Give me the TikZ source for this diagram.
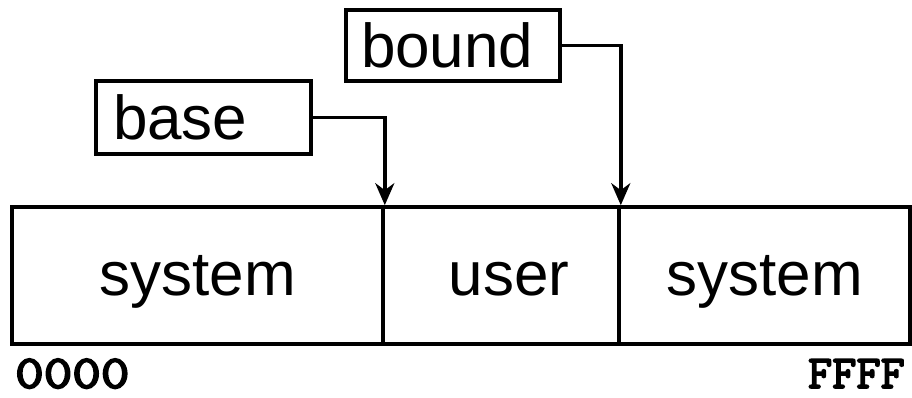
\documentclass[tikz,border=0pt]{standalone}
\usepackage{fontspec}
\setmainfont{Liberation Sans}
\newfontfamily\addrfont[AutoFakeBold=3.5]{Latin Modern Mono}
\usetikzlibrary{arrows.meta}
\begin{document}
\begin{tikzpicture}[x=1pt,y=-1pt,
  lw/.style={line width=3.6pt},
  lbl/.style={draw, lw, inner ysep=0pt, font=\fontsize{62}{70}\selectfont, text height=45pt, text depth=0pt, align=left},
  cell/.style={draw, lw, minimum height=137pt, inner sep=0pt, font=\fontsize{62}{70}\selectfont, text height=39pt, text depth=0pt, align=center},
  addr/.style={font=\addrfont\bfseries\fontsize{47}{52}\selectfont, inner sep=0pt},
  conn/.style={lw, -{Stealth[length=22pt,width=19pt,inset=7pt]}}
]
\useasboundingbox (0,0) rectangle (912,398);
\node[lbl, minimum height=73pt, inner xsep=17pt, text width=181pt] (base) at (203.5,117.5) {base};
\node[lbl, minimum height=71pt, inner xsep=15pt, text width=184pt] (bound) at (453,45.5) {bound};
\node[cell, text width=371pt] (sys1) at (197.5,275.5) {system};
\node[cell, text width=236pt] (user) at (501,275.5) {\hspace*{16pt}user};
\node[cell, text width=291pt] (sys2) at (764.5,275.5) {system};
\draw[conn] (base.east) -| (sys1.north east);
\draw[conn] (bound.east) -| (user.north east);
\node[addr, anchor=base west] (lo) at (15,388) {\scalebox{1.18}[1]{0000}};
\node[addr, anchor=base east] (hi) at (905,388) {FFFF};
\end{tikzpicture}
\end{document}
